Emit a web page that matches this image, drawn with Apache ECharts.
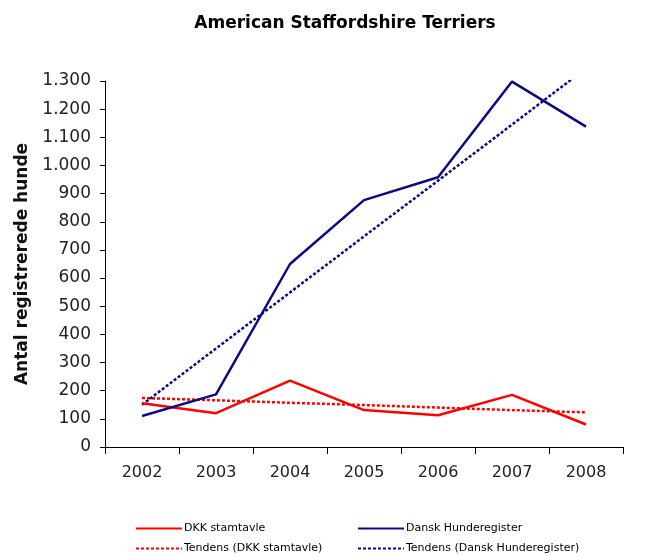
<!DOCTYPE html>
<html>
<head>
<meta charset="utf-8">
<script src="https://cdn.jsdelivr.net/npm/echarts@6/dist/echarts.min.js"></script>
<style>
  html, body { margin: 0; padding: 0; background: #fff; }
  #chart { width: 672px; height: 556px; }
</style>
</head>
<body>
<div id="chart"></div>
<script>
  const years = ['2002', '2003', '2004', '2005', '2006', '2007', '2008']
  const dkk = [155, 120, 236, 131, 113, 185, 80]
  const dansk = [110, 187, 650, 877, 958, 1298, 1138]
  // trendlines
  const dkkTrend = [174, 166, 157, 149, 140, 131, 123]
  const danskTrend = [150, 350, 549, 748, 946, 1145, 1345]
  const yTicks = [0, 100, 200, 300, 400, 500, 600, 700, 800, 900, 1000, 1100, 1200, 1300]

  const RED = '#ff0000'
  const BLUE = '#0a0a82'
  const FONT = '"DejaVu Sans", "Liberation Sans", Arial, sans-serif'

  const chart = echarts.init(document.getElementById('chart'))

  const legendBase = {
    orient: 'horizontal',
    itemWidth: 46,
    itemHeight: 10,
    itemGap: 2,
    itemStyle: { opacity: 0 },
    textStyle: { fontFamily: FONT, fontSize: 11, color: '#000', padding: [0, 0, 0, -3] },
    padding: 0,
  }

  const option = {
    backgroundColor: '#fff',
    animation: false,
    title: {
      text: 'American Staffordshire Terriers',
      left: 340,
      textAlign: 'center',
      top: 10,
      textStyle: { fontFamily: FONT, fontSize: 17, fontWeight: 'bold', color: '#000' },
    },
    legend: [
      Object.assign({ data: ['DKK stamtavle'], left: 135, top: 523 }, legendBase),
      Object.assign({ data: ['Dansk Hunderegister'], left: 357, top: 523 }, legendBase),
      Object.assign({ data: ['Tendens (DKK stamtavle)'], left: 135, top: 543 }, legendBase),
      Object.assign({ data: ['Tendens (Dansk Hunderegister)'], left: 357, top: 543 }, legendBase),
    ],
    grid: { left: 105, right: 49, top: 81, bottom: 109 },
    xAxis: {
      type: 'category',
      data: years,
      boundaryGap: true,
      axisLine: { lineStyle: { color: '#000', width: 1 } },
      axisTick: { show: true, length: 7, lineStyle: { color: '#000' } },
      axisLabel: { color: '#222', fontFamily: FONT, fontSize: 16, margin: 18 },
      splitLine: { show: false },
    },
    yAxis: {
      type: 'value',
      min: yTicks[0],
      max: yTicks[yTicks.length - 1],
      interval: 100,
      name: 'Antal registrerede hunde',
      nameLocation: 'middle',
      nameGap: 66,
      nameTextStyle: { fontFamily: FONT, fontSize: 17, fontWeight: 'bold', color: '#111' },
      axisLine: { show: true, lineStyle: { color: '#000', width: 1 } },
      axisTick: { show: true, length: 5, lineStyle: { color: '#000' } },
      axisLabel: {
        color: '#222',
        fontFamily: FONT,
        fontSize: 17,
        margin: 14,
        formatter: (v) => String(v).replace(/\B(?=(\d{3})+(?!\d))/g, '.'),
      },
      splitLine: { show: false },
    },
    series: [
      {
        name: 'DKK stamtavle',
        type: 'line',
        data: dkk,
        symbol: 'none',
        lineStyle: { color: RED, width: 2.5 },
        itemStyle: { color: RED },
        z: 3,
      },
      {
        name: 'Dansk Hunderegister',
        type: 'line',
        data: dansk,
        symbol: 'none',
        lineStyle: { color: BLUE, width: 2.5 },
        itemStyle: { color: BLUE },
        z: 3,
      },
      {
        name: 'Tendens (DKK stamtavle)',
        type: 'line',
        data: dkkTrend,
        symbol: 'none',
        lineStyle: { color: RED, width: 2.5, type: [3, 2] },
        itemStyle: { color: RED },
        z: 2,
      },
      {
        name: 'Tendens (Dansk Hunderegister)',
        type: 'line',
        data: danskTrend,
        symbol: 'none',
        clip: true,
        lineStyle: { color: BLUE, width: 2.5, type: [3, 2] },
        itemStyle: { color: BLUE },
        z: 2,
      },
    ],
  }
  chart.setOption(option, true)
</script>
</body>
</html>
